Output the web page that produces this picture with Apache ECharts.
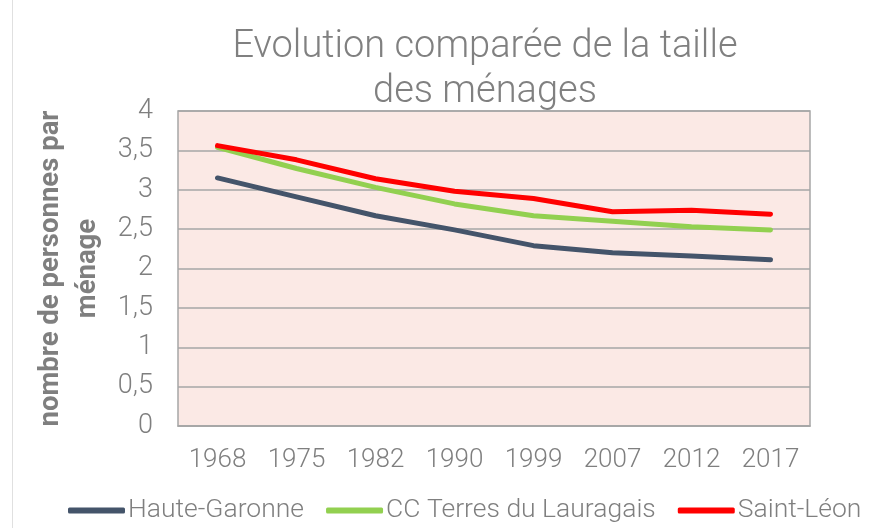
<!DOCTYPE html>
<html><head><meta charset="utf-8">
<script src="https://cdn.jsdelivr.net/npm/echarts@6/dist/echarts.min.js"></script>
<style>html,body{margin:0;padding:0;background:#fff}#c{width:879px;height:528px}</style>
</head><body><div id="c"></div>
<script>
const categories = ['1968','1975','1982','1990','1999','2007','2012','2017'];
const hauteGaronne = [3.15, 2.91, 2.67, 2.49, 2.29, 2.20, 2.16, 2.11];
const ccTerres = [3.54, 3.27, 3.03, 2.82, 2.67, 2.60, 2.53, 2.49];
const saintLeon = [3.56, 3.38, 3.14, 2.98, 2.89, 2.72, 2.74, 2.69];
const seriesNames = ['Haute-Garonne', 'CC Terres du Lauragais', 'Saint-Léon'];
const colors = ['#44546a', '#92d050', '#ff0000'];

const chart = echarts.init(document.getElementById('c'));
const mk = (name, data, color) => ({
  name, type: 'line', data, symbol: 'none', smooth: false,
  lineStyle: { width: 5, color, cap: 'round', join: 'round' },
  itemStyle: { color }
});
chart.setOption({
  animation: false,
  textStyle: { fontFamily: 'Roboto' },
  title: {
    text: 'Evolution comparée de la taille\ndes ménages',
    left: 480, top: 20, textAlign: 'center',
    textStyle: { fontSize: 38, fontWeight: 300, color: '#808080', lineHeight: 45, fontFamily: 'Roboto' }
  },
  legend: {
    top: 492, left: 63, width: 816, itemGap: 22, itemWidth: 57, itemHeight: 6,
    icon: 'roundRect',
    textStyle: { fontSize: 26.5, fontWeight: 300, color: '#7f7f7f', fontFamily: 'Roboto', padding: [0, 0, 0, -2] },
    data: seriesNames
  },
  grid: { left: 178, right: 69, top: 111, bottom: 102, show: true, backgroundColor: '#fbe9e5', borderColor: '#a6a6a6', borderWidth: 1.5 },
  xAxis: {
    type: 'category', data: categories, boundaryGap: true,
    axisLine: { show: true, lineStyle: { color: '#a6a6a6', width: 1.5 } },
    axisTick: { show: false },
    axisLabel: { fontSize: 26, fontWeight: 300, color: '#7f7f7f', margin: 21 }
  },
  yAxis: {
    type: 'value', min: 0, max: 4, interval: 0.5,
    name: 'nombre de personnes par\nménage', nameLocation: 'middle', nameGap: 58,
    nameTextStyle: { fontSize: 27.5, fontWeight: 'bold', color: '#7f7f7f', lineHeight: 37 },
    axisLine: { show: false }, axisTick: { show: false },
    axisLabel: { fontSize: 27, fontWeight: 300, color: '#7f7f7f', margin: 25, formatter: v => String(v).replace('.', ',') },
    splitLine: { lineStyle: { color: '#a6a6a6', width: 1.5 } }
  },
  series: [mk(seriesNames[0], hauteGaronne, colors[0]), mk(seriesNames[1], ccTerres, colors[1]), mk(seriesNames[2], saintLeon, colors[2])],
  graphic: [{ type: 'line', shape: { x1: 12.5, y1: 0, x2: 12.5, y2: 528 }, style: { stroke: '#e0e0e0', lineWidth: 1 } }]
});
</script></body></html>
